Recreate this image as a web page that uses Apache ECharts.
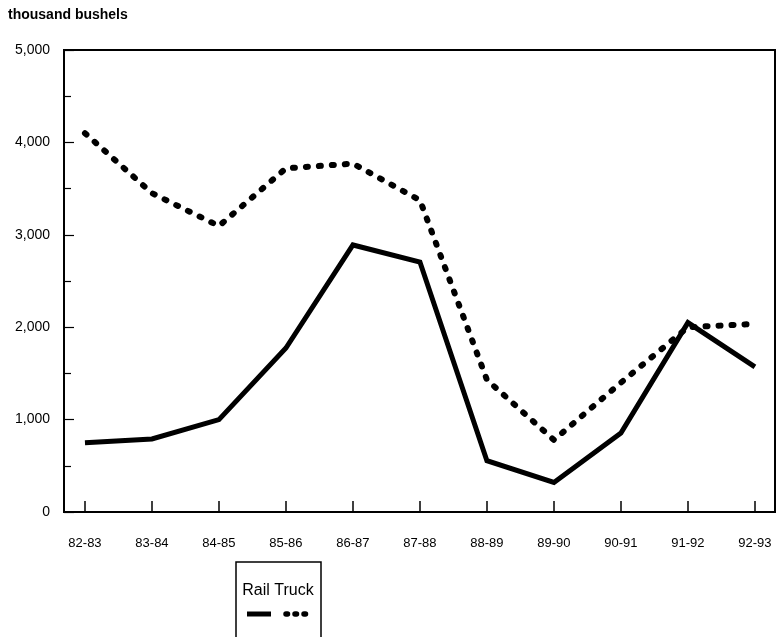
<!DOCTYPE html>
<html>
<head>
<meta charset="utf-8">
<script src="https://cdn.jsdelivr.net/npm/echarts@6/dist/echarts.min.js"></script>
<style>
html,body{margin:0;padding:0;background:#fff;}
#chart{width:777px;height:637px;}
</style>
</head>
<body>
<div id="chart"></div>
<script>
const categories = ['82-83','83-84','84-85','85-86','86-87','87-88','88-89','89-90','90-91','91-92','92-93'];
const railValues = [750, 790, 1000, 1775, 2890, 2705, 555, 320, 855, 2050, 1570];
const truckValues = [4100, 3450, 3095, 3720, 3770, 3375, 1430, 780, 1400, 2000, 2035];
const yTicks = [0, 1000, 2000, 3000, 4000, 5000];
const yAxisTitle = 'thousand bushels';
const legendNames = ['Rail', 'Truck'];

const chart = echarts.init(document.getElementById('chart'), null, {renderer: 'canvas'});
const idx = categories.map((c, i) => i);
const font = 'Liberation Sans, Arial, sans-serif';

chart.setOption({
  backgroundColor: '#fff',
  animation: false,
  grid: {left: 64, right: 2, top: 50, bottom: 125, show: true, borderColor: '#000', borderWidth: 2, backgroundColor: 'transparent'},
  graphic: [
    {type: 'text', left: 8, top: 8, style: {text: yAxisTitle, font: 'bold 14px ' + font, fill: '#000'}},
    {type: 'rect', shape: {x: 236, y: 562, width: 85, height: 76}, style: {fill: 'transparent', stroke: '#000', lineWidth: 1.5}},
    {type: 'text', x: 278, y: 591, style: {text: legendNames.join(' '), font: '16px ' + font, fill: '#000', align: 'center', verticalAlign: 'middle'}},
    {type: 'line', shape: {x1: 247, y1: 614, x2: 271, y2: 614}, style: {stroke: '#000', lineWidth: 5}},
    {type: 'line', shape: {x1: 286, y1: 614, x2: 306, y2: 614}, style: {stroke: '#000', lineWidth: 5.5, lineDash: [1.5, 7.5], lineCap: 'round'}}
  ],
  xAxis: {
    type: 'value',
    min: -0.313,
    max: 10.3,
    splitLine: {show: false},
    axisLine: {show: true, onZero: false, lineStyle: {color: '#000', width: 2}},
    axisTick: {show: true, inside: true, length: 11, customValues: idx, lineStyle: {color: '#000', width: 1.5}},
    axisLabel: {customValues: idx, formatter: v => categories[Math.round(v)], color: '#000', fontSize: 13, fontFamily: font, margin: 25}
  },
  yAxis: {
    type: 'value',
    min: 0,
    max: 5000,
    interval: 1000,
    splitLine: {show: false},
    axisLine: {show: true, onZero: false, lineStyle: {color: '#000', width: 2}},
    axisTick: {show: true, inside: true, length: 10, lineStyle: {color: '#000', width: 1.2}},
    minorTick: {show: true, splitNumber: 2, length: 7, lineStyle: {color: '#000', width: 1.2}},
    axisLabel: {color: '#000', fontSize: 14, fontFamily: font, margin: 14,
      formatter: v => yTicks.includes(v) ? v.toLocaleString('en-US') : ''}
  },
  series: [
    {name: legendNames[0], type: 'line', data: railValues.map((v, i) => [i, v]), symbol: 'none',
      lineStyle: {color: '#000', width: 5, join: 'miter'}},
    {name: legendNames[1], type: 'line', data: truckValues.map((v, i) => [i, v]), symbol: 'none',
      lineStyle: {color: '#000', width: 6, type: [2, 11], cap: 'round', join: 'round'}}
  ]
});
</script>
</body>
</html>
